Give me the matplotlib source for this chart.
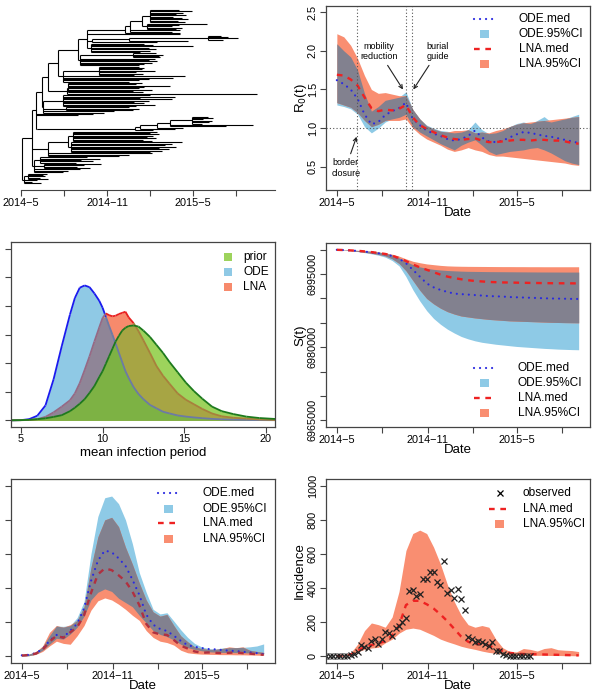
import numpy as np
import pandas as pd
import matplotlib
matplotlib.use("Agg")
import matplotlib.pyplot as plt
from matplotlib.collections import LineCollection
from matplotlib.patches import Rectangle

plt.rcParams['font.family'] = ['Liberation Sans', 'DejaVu Sans']

# ---------------- data ----------------
# model output, every two weeks from 2014-05-01
dates = pd.date_range("2014-05-01", periods=36, freq="14D")
obs_dates = pd.date_range("2014-04-10", periods=60, freq="7D")

# R0(t)
r0_ode_med = [1.62, 1.57, 1.50, 1.38, 1.18, 1.05, 1.08, 1.17, 1.22, 1.26, 1.33, 1.12, 1.04, 0.97, 0.93, 0.90, 0.86, 0.84,
              0.86, 0.90, 0.97, 0.88, 0.83, 0.82, 0.84, 0.88, 0.92, 0.95, 0.94, 0.92, 0.90, 0.89, 0.87, 0.85, 0.83, 0.81]
r0_ode_lo = [1.30, 1.28, 1.25, 1.18, 1.02, 0.94, 1.00, 1.08, 1.12, 1.14, 1.18, 1.02, 0.95, 0.90, 0.85, 0.80, 0.76, 0.72,
             0.78, 0.82, 0.85, 0.78, 0.70, 0.66, 0.68, 0.70, 0.71, 0.72, 0.74, 0.75, 0.72, 0.68, 0.63, 0.58, 0.55, 0.53]
r0_ode_hi = [2.09, 2.00, 1.92, 1.75, 1.45, 1.22, 1.28, 1.36, 1.38, 1.40, 1.47, 1.24, 1.12, 1.04, 1.00, 0.97, 0.96, 0.94,
             0.95, 0.98, 1.08, 0.98, 0.93, 0.94, 0.97, 1.02, 1.06, 1.08, 1.06, 1.10, 1.15, 1.08, 1.10, 1.12, 1.15, 1.18]
r0_lna_med = [1.69, 1.68, 1.63, 1.55, 1.40, 1.26, 1.22, 1.24, 1.23, 1.25, 1.30, 1.14, 1.04, 0.99, 0.95, 0.91, 0.88, 0.86,
              0.85, 0.86, 0.87, 0.84, 0.82, 0.82, 0.83, 0.84, 0.85, 0.85, 0.84, 0.85, 0.85, 0.84, 0.84, 0.83, 0.81, 0.80]
r0_lna_lo = [1.33, 1.30, 1.27, 1.20, 1.10, 1.02, 1.05, 1.10, 1.10, 1.10, 1.12, 1.00, 0.92, 0.86, 0.82, 0.78, 0.73, 0.70,
             0.72, 0.75, 0.72, 0.70, 0.66, 0.64, 0.64, 0.63, 0.62, 0.61, 0.60, 0.59, 0.58, 0.57, 0.56, 0.55, 0.53, 0.52]
r0_lna_hi = [2.22, 2.18, 2.07, 1.90, 1.68, 1.50, 1.45, 1.46, 1.44, 1.42, 1.42, 1.24, 1.12, 1.03, 0.99, 0.96, 0.95, 0.97,
             0.97, 0.98, 0.94, 0.95, 0.94, 0.97, 0.99, 1.02, 1.05, 1.07, 1.08, 1.09, 1.10, 1.11, 1.12, 1.13, 1.14, 1.15]
event_dates = pd.to_datetime(["2014-06-11", "2014-09-19", "2014-10-01"])

# S(t)
s_ode_med = [7000000, 6999950, 6999880, 6999780, 6999640, 6999480, 6999300, 6999080, 6998750, 6998200, 6997250, 6995900,
             6994500, 6993100, 6992300, 6991750, 6991350, 6991000, 6990900, 6990800, 6990700, 6990600, 6990500, 6990450,
             6990400, 6990300, 6990250, 6990200, 6990150, 6990100, 6990050, 6990000, 6989980, 6989950, 6989920, 6989900]
s_ode_lo = [7000000, 6999920, 6999800, 6999640, 6999420, 6999180, 6998900, 6998500, 6997800, 6996700, 6994500, 6991800,
            6989500, 6987500, 6985900, 6984700, 6983700, 6982900, 6982200, 6981700, 6981300, 6981000, 6980800, 6980600,
            6980450, 6980300, 6980150, 6980050, 6979950, 6979850, 6979750, 6979680, 6979600, 6979550, 6979500, 6979470]
s_ode_hi = [7000000, 6999980, 6999940, 6999880, 6999790, 6999680, 6999530, 6999320, 6998950, 6998350, 6997600, 6996950,
            6996500, 6996200, 6995990, 6995850, 6995750, 6995680, 6995620, 6995580, 6995560, 6995540, 6995520, 6995510,
            6995500, 6995490, 6995480, 6995470, 6995460, 6995450, 6995445, 6995440, 6995435, 6995430, 6995430, 6995430]
s_lna_med = [7000000, 6999950, 6999880, 6999800, 6999680, 6999530, 6999360, 6999150, 6998800, 6998300, 6997700, 6997000,
             6996400, 6995900, 6995400, 6994900, 6994500, 6994200, 6993950, 6993750, 6993600, 6993500, 6993400, 6993350,
             6993300, 6993280, 6993250, 6993230, 6993200, 6993180, 6993160, 6993140, 6993130, 6993120, 6993110, 6993100]
s_lna_lo = [7000000, 6999930, 6999830, 6999690, 6999500, 6999300, 6999050, 6998750, 6998150, 6997200, 6995700, 6993700,
            6991700, 6990000, 6988900, 6988000, 6987300, 6986800, 6986400, 6986200, 6986000, 6985850, 6985700, 6985600,
            6985500, 6985400, 6985350, 6985300, 6985250, 6985200, 6985150, 6985100, 6985070, 6985040, 6985020, 6985000]
s_lna_hi = [7000000, 6999980, 6999940, 6999880, 6999800, 6999700, 6999560, 6999380, 6999100, 6998700, 6998150, 6997650,
            6997350, 6997100, 6996950, 6996800, 6996700, 6996650, 6996620, 6996600, 6996590, 6996580, 6996570, 6996560,
            6996550, 6996550, 6996540, 6996540, 6996530, 6996530, 6996520, 6996520, 6996520, 6996520, 6996520, 6996520]

# incidence, ODE vs LNA
inc_ode_med = [5, 8, 18, 42, 90, 125, 110, 150, 190, 280, 440, 560, 620, 610, 575, 530, 450, 360,
               245, 185, 160, 148, 120, 90, 65, 55, 48, 42, 40, 36, 32, 30, 26, 22, 18, 12]
inc_ode_lo = [1, 3, 12, 35, 70, 105, 100, 130, 170, 235, 330, 375, 395, 380, 340, 315, 290, 240,
              195, 150, 128, 115, 95, 70, 50, 40, 32, 26, 24, 22, 22, 21, 20, 19, 17, 15]
inc_ode_hi = [8, 12, 25, 55, 120, 177, 175, 180, 226, 320, 600, 820, 930, 940, 895, 800, 660, 490,
              375, 275, 248, 255, 206, 155, 110, 75, 55, 45, 42, 48, 50, 50, 52, 55, 60, 72]
inc_lna_med = [4, 7, 15, 38, 85, 120, 108, 140, 170, 240, 370, 480, 515, 505, 475, 440, 380, 300,
               190, 140, 128, 125, 95, 62, 45, 28, 20, 22, 20, 18, 20, 22, 18, 15, 12, 8]
inc_lna_lo = [1, 3, 10, 28, 60, 88, 75, 70, 120, 180, 270, 325, 342, 330, 305, 275, 240, 210,
              150, 110, 88, 80, 65, 35, 20, 15, 12, 11, 10, 9, 9, 8, 8, 7, 6, 5]
inc_lna_hi = [8, 12, 25, 60, 140, 180, 170, 185, 210, 290, 520, 700, 800, 815, 760, 640, 540, 430,
              330, 260, 235, 245, 180, 120, 85, 55, 45, 40, 40, 45, 55, 50, 55, 35, 28, 22]

# incidence, LNA fit vs observed
fit_med = [1, 3, 10, 30, 55, 65, 75, 88, 120, 180, 300, 325, 325, 305, 280, 245, 205, 160,
           115, 85, 68, 75, 62, 45, 31, 20, 15, 13, 12, 11, 10, 9, 8, 7, 6, 5]
fit_lo = [0, 1, 8, 25, 40, 48, 52, 78, 100, 135, 158, 165, 158, 140, 122, 100, 85, 72,
          58, 48, 40, 30, 22, 17, 12, 9, 7, 7, 6, 5, 5, 4, 4, 3, 3, 2]
fit_hi = [5, 8, 20, 70, 150, 195, 185, 170, 230, 380, 620, 720, 740, 720, 640, 540, 420, 320,
          240, 185, 170, 180, 170, 100, 50, 28, 25, 45, 40, 30, 45, 50, 38, 35, 33, 27]
observed = [0, 0, 0, 0, 0, 0, 0, 5, 12, 25, 64, 56, 47, 90, 103, 74, 99, 142, 134, 119,
            167, 177, 200, 224, 381, 391, 356, 366, 453, 453, 494, 494, 436, 416, 560, 368, 387, 342, 397, 333,
            272, 113, 99, 84, 89, 86, 74, 60, 84, 31, 31, 12, 6, 3, 2, 2, 1, 0, 0, 0]

# posterior / prior densities of the mean infection period
period = [4.4, 5.0, 5.5, 6.0, 6.5, 7.0, 7.5, 8.0, 8.3, 8.6, 8.9, 9.2, 9.5, 9.8, 10.0, 10.2, 10.4, 10.6, 10.8, 11.0,
          11.2, 11.4, 11.6, 11.9, 12.2, 12.5, 12.9, 13.3, 13.7, 14.1, 14.6, 15.1, 15.6, 16.1, 16.7, 17.3, 18.0, 18.8,
          19.6, 20.6]
dens_ode = [0, 0.0003, 0.002, 0.008, 0.026, 0.072, 0.130, 0.185, 0.214, 0.232, 0.236, 0.233, 0.222, 0.209, 0.197,
            0.181, 0.165, 0.150, 0.134, 0.118, 0.102, 0.086, 0.074, 0.058, 0.046, 0.037, 0.027, 0.021, 0.015, 0.012,
            0.0085, 0.0065, 0.005, 0.0038, 0.0025, 0.0017, 0.001, 0.0007, 0.0004, 0.0002]
dens_lna = [0, 0.0002, 0.0006, 0.002, 0.006, 0.014, 0.024, 0.035, 0.047, 0.065, 0.088, 0.112, 0.138, 0.163, 0.179,
            0.187, 0.184, 0.182, 0.183, 0.186, 0.188, 0.190, 0.180, 0.170, 0.156, 0.140, 0.118, 0.095, 0.078, 0.064,
            0.047, 0.036, 0.028, 0.020, 0.012, 0.007, 0.0045, 0.003, 0.0015, 0.0005]
dens_prior = [0, 0.0003, 0.0008, 0.002, 0.0035, 0.006, 0.009, 0.016, 0.022, 0.029, 0.037, 0.048, 0.060, 0.076, 0.086,
              0.099, 0.112, 0.125, 0.138, 0.148, 0.157, 0.162, 0.165, 0.166, 0.164, 0.157, 0.146, 0.132, 0.118, 0.102,
              0.084, 0.066, 0.051, 0.038, 0.024, 0.016, 0.011, 0.0065, 0.004, 0.0023]

# time-scaled phylogeny, node = [time, children...], leaf = tip time (months since 2014-05)
A1 = [9.0, 11.0, 11.9, 11.3, 10.8, 11.5, 10.6, 11.2, 11.6, 10.9, 11.4]
A2 = [8.8, 12.98, 11.0, 10.5, 11.2, 10.8]
clade_A = [7.26, [7.6, [8.4, A1, A2], 11.1, 10.5], 11.1]
clade_B = [4.95, [7.5, [13.0, 13.9, 14.4, 15.14, 14.1], 11.6], 9.5]
clade_C = [4.9, 8.6, 9.2, 12.0, 8.9, 9.4, 9.0, 8.3]
clade_D = [4.1, [7.8, 9.4, 9.9, 9.6, 9.7], 9.3, 8.9, 9.5, 9.1, 8.6, 8.2]
clade_E = [2.9, [5.4, 8.2, 8.6, 8.4, 9.3, 8.0, 8.5, 7.9], 11.44, 10.6, 8.9, 8.2, 7.5]
clade_F = [3.3, 8.4, 8.0, 10.4, 8.6, 8.2, 9.1, 7.8, 8.5]
clade_G = [1.5, [2.9, 9.0, 10.75, 8.3, 10.5, 8.9, 7.9, 8.6, 9.3, 8.0], [3.1, 7.5, 8.2, 7.8], 6.5, 5.8]
clade_H = [1.1, [7.96, [8.3, [9.5, [10.4, [11.9, 13.0, 13.4, 12.7, 13.3, 13.1, 12.6], 16.19, 14.3], 11.3], 10.7], 9.2]]
clade_I = [1.9, [3.3, [3.6, 9.5, 9.0, 9.6, 9.2, 8.8, 9.4, 8.5, 9.1],
                 [3.5, 11.2, 10.5, 10.0, 10.8, 9.6, 10.3, 9.8, 9.0]], 9.1, 7.5, 6.8]
clade_J = [0.9, [1.3, 4.6, 5.5, 4.2, 5.0, 3.8], [1.6, 5.6, 4.4, 3.9, 4.8], 4.1, 3.3, 2.9]
clade_K = [0.2, [0.5, 1.8, 1.5, 1.7, 1.3, 1.9], 1.1, 0.8, 1.4]
tree = [0.07,
        [0.77,
         [1.05,
          [1.47,
           [1.88,
            [2.58,
             [3.98, [4.6, clade_A, 11.1, clade_B, clade_C], clade_D],
             clade_E],
            [3.2, clade_F, 16.4]],
           clade_G],
          5.0, 4.0, clade_H],
         clade_I, clade_J],
        clade_K]

# ---------------- style ----------------
C_ODE = '#8ecae6'
C_LNA = '#f98e71'
C_BOTH = '#82818f'
C_ODE_LINE = '#2a2ae0'
C_LNA_LINE = '#ee2222'
BOX = '#444444'
DOTTED = dict(lw=1.6, ls=(0, (0.01, 2.7)), dash_capstyle='round')
DASHED = dict(lw=1.7, ls=(0, (2.4, 2.4)))
TICK_LABELS = ["2014\u22125", "", "2014\u221211", "", "2015\u22125", ""]
TICK_DATES = pd.to_datetime(["2014-05-01", "2014-08-01", "2014-11-01", "2015-02-01", "2015-05-01", "2015-08-01"])
T0 = pd.Timestamp("2014-05-01")

W, H = 597, 695
fig = plt.figure(figsize=(W / 100, H / 100), dpi=100)


def panel(x0, y0, x1, y1):
    ax = fig.add_axes([x0 / W, 1 - y1 / H, (x1 - x0) / W, (y1 - y0) / H])
    for s in ax.spines.values():
        s.set_color(BOX)
        s.set_linewidth(0.9)
    ax.tick_params(length=4, width=0.8, color=BOX, labelsize=7.8, pad=2)
    return ax


def rotate_yticks(ax):
    for lab in ax.get_yticklabels():
        lab.set_rotation(90)
        lab.set_va('center')


def date_axis(ax):
    ax.set_xticks(TICK_DATES)
    ax.set_xticklabels(TICK_LABELS)
    ax.set_xlim(T0 - pd.Timedelta(days=22), T0 + pd.Timedelta(days=513))
    ax.set_xlabel("Date", fontsize=9.5, labelpad=0)
    ax.xaxis.set_label_coords(0.5, -0.09)


def bands(ax, x, lo1, hi1, lo2, hi2):
    lo1, hi1, lo2, hi2 = map(np.asarray, (lo1, hi1, lo2, hi2))
    ax.fill_between(x, lo1, hi1, color=C_ODE, lw=0)
    ax.fill_between(x, lo2, hi2, color=C_LNA, lw=0)
    lo = np.maximum(lo1, lo2)
    hi = np.minimum(hi1, hi2)
    ax.fill_between(x, lo, hi, where=hi > lo, interpolate=True, color=C_BOTH, lw=0)


def legend_rows(ax, rows, xs, xt, ys, fs=8.6):
    tr = ax.transAxes
    for (kind, label), y in zip(rows, ys):
        if kind == 'odemed':
            ax.plot([xs - 0.04, xs + 0.04], [y, y], transform=tr, color=C_ODE_LINE, clip_on=False, **DOTTED)
        elif kind == 'lnamed':
            ax.plot([xs - 0.04, xs + 0.04], [y, y], transform=tr, color=C_LNA_LINE, clip_on=False, **DASHED)
        elif kind == 'obs':
            ax.plot([xs], [y], transform=tr, marker='x', color='black', ms=5, mew=0.9, ls='none')
        else:
            ax.add_patch(Rectangle((xs - 0.017, y - 0.022), 0.034, 0.044, transform=tr,
                                   color=kind, lw=0))
        ax.text(xt, y, label, transform=tr, fontsize=fs, va='center', ha='left')


# ---------------- panel 1: tree ----------------
ax1 = fig.add_axes([11 / W, 1 - 190 / H, 264 / W, 185 / H])
segs = []
counter = [0]


def draw_node(node, t_parent):
    if isinstance(node, list):
        t = node[0]
        ys = [draw_node(c, t) for c in node[1:]]
        y = (ys[0] + ys[-1]) / 2
        segs.append([(t, ys[0]), (t, ys[-1])])
    else:
        t = node
        y = counter[0]
        counter[0] += 1
    segs.append([(t_parent, y), (t, y)])
    return y


draw_node(tree, tree[0])
n_leaf = counter[0]
step = (183 - 10) / (n_leaf - 1)
ax1.add_collection(LineCollection(segs, colors='black', linewidths=0.8))
ax1.set_ylim((190 - 10) / step, (5 - 10) / step)
ax1.set_xlim(-10 / 14.36, 254 / 14.36)
for s in ['top', 'right', 'left']:
    ax1.spines[s].set_visible(False)
ax1.spines['bottom'].set_bounds(0, 254 / 14.36)
ax1.spines['bottom'].set_color(BOX)
ax1.set_yticks([])
ax1.set_xticks([0, 3, 6, 9, 12, 15])
ax1.set_xticklabels(TICK_LABELS)
ax1.tick_params(length=4, width=0.8, color=BOX, labelsize=7.8, pad=2)

# ---------------- panel 2: R0 ----------------
ax2 = panel(326, 6, 590, 190)
bands(ax2, dates, r0_ode_lo, r0_ode_hi, r0_lna_lo, r0_lna_hi)
ax2.plot(dates, r0_ode_med, color=C_ODE_LINE, **DOTTED)
ax2.plot(dates, r0_lna_med, color=C_LNA_LINE, **DASHED)
ax2.axhline(1.0, color='#555555', lw=0.8, ls=(0, (1, 2)))
for d in event_dates:
    ax2.axvline(d, color='#555555', lw=0.8, ls=(0, (1, 2)))
arrow = dict(arrowstyle='->', color='#222222', lw=0.8, shrinkA=1, shrinkB=0)
ax2.annotate("mobility\nreduction", xy=(T0 + pd.Timedelta(days=134), 1.50),
             xytext=(T0 + pd.Timedelta(days=85), 1.99), fontsize=6.5, ha='center', va='center',
             arrowprops=arrow, linespacing=1.25)
ax2.annotate("burial\nguide", xy=(T0 + pd.Timedelta(days=155), 1.50),
             xytext=(T0 + pd.Timedelta(days=205), 1.99), fontsize=6.5, ha='center', va='center',
             arrowprops=arrow, linespacing=1.25)
ax2.annotate("border\nclosure", xy=(T0 + pd.Timedelta(days=40), 0.89),
             xytext=(T0 + pd.Timedelta(days=18), 0.49), fontsize=6.5, ha='center', va='center',
             arrowprops=arrow, linespacing=1.25)
date_axis(ax2)
ax2.set_ylim(0.202, 2.578)
ax2.set_yticks([0.5, 1.0, 1.5, 2.0, 2.5])
rotate_yticks(ax2)
ax2.set_ylabel("R$_0$(t)", fontsize=9.5)
ax2.yaxis.set_label_coords(-0.064, 0.5)
legend_rows(ax2, [('odemed', 'ODE.med'), (C_ODE, 'ODE.95%CI'), ('lnamed', 'LNA.med'), (C_LNA, 'LNA.95%CI')],
            0.602, 0.731, [0.929, 0.848, 0.766, 0.685])

# ---------------- panel 3: density ----------------
ax3 = panel(11, 242, 275, 427)
x = np.asarray(period)
po, pl, pp = map(np.asarray, (dens_ode, dens_lna, dens_prior))
ax3.fill_between(x, 0, po, color='#8fc9e5', lw=0)
ax3.fill_between(x, 0, pl, color='#f78a6c', lw=0)
ax3.fill_between(x, 0, np.minimum(po, pl), color='#8f8597', lw=0)
ax3.fill_between(x, 0, pp, color='#9dd35c', lw=0)
ax3.fill_between(x, 0, np.minimum(pp, pl), color='#a7a544', lw=0)
ax3.fill_between(x, 0, np.minimum(pp, po), color='#7db244', lw=0)


def seg_lines(ax, y, colors_fn):
    pts = np.column_stack([x, y])
    sg = np.stack([pts[:-1], pts[1:]], axis=1)
    cols = [colors_fn(i) for i in range(len(x) - 1)]
    ax.add_collection(LineCollection(sg, colors=cols, linewidths=1.3))


def ode_col(i):
    m = (po[i] + po[i + 1]) / 2
    return '#1a1aee' if m >= max((pl[i] + pl[i + 1]) / 2, (pp[i] + pp[i + 1]) / 2) else '#6c7aa6'


def lna_col(i):
    m = (pl[i] + pl[i + 1]) / 2
    if m >= max((po[i] + po[i + 1]) / 2, (pp[i] + pp[i + 1]) / 2):
        return '#e82020'
    if m < (pp[i] + pp[i + 1]) / 2:
        return '#a8803c'
    return '#946a86'


seg_lines(ax3, po, ode_col)
seg_lines(ax3, pl, lna_col)
seg_lines(ax3, pp, lambda i: '#1d7a1d')
ax3.set_xlim(4.39, 20.56)
ax3.set_ylim(-0.0117, 0.312)
ax3.set_xticks([5, 10, 15, 20])
ax3.set_yticks([0, 0.05, 0.10, 0.15, 0.20, 0.25, 0.30])
ax3.set_yticklabels([])
ax3.tick_params(axis='x', pad=1)
ax3.set_xlabel("mean infection period", fontsize=9.5)
ax3.xaxis.set_label_coords(0.5, -0.108)
legend_rows(ax3, [('#9dd35c', 'prior'), ('#8fc9e5', 'ODE'), ('#f78a6c', 'LNA')],
            0.822, 0.879, [0.919, 0.838, 0.757])

# ---------------- panel 4: S(t) ----------------
ax4 = panel(326, 243, 590, 427)
bands(ax4, dates, s_ode_lo, s_ode_hi, s_lna_lo, s_lna_hi)
ax4.plot(dates, s_ode_med, color=C_ODE_LINE, **DOTTED)
ax4.plot(dates, s_lna_med, color=C_LNA_LINE, **DASHED)
date_axis(ax4)
ax4.set_ylim(6963600, 7001400)
yt = np.arange(6965000, 7000001, 5000)
ax4.set_yticks(yt)
ax4.set_yticklabels([str(v) if v in (6965000, 6980000, 6995000) else "" for v in yt])
rotate_yticks(ax4)
ax4.set_ylabel("S(t)", fontsize=9.5)
ax4.yaxis.set_label_coords(-0.075, 0.5)
legend_rows(ax4, [('odemed', 'ODE.med'), (C_ODE, 'ODE.95%CI'), ('lnamed', 'LNA.med'), (C_LNA, 'LNA.95%CI')],
            0.602, 0.727, [0.321, 0.239, 0.158, 0.076])

# ---------------- panel 5: incidence ODE vs LNA ----------------
ax5 = panel(11, 479, 275, 663)
bands(ax5, dates, inc_ode_lo, inc_ode_hi, inc_lna_lo, inc_lna_hi)
ax5.plot(dates, inc_ode_med, color=C_ODE_LINE, **DOTTED)
ax5.plot(dates, inc_lna_med, color='#b03040', **DASHED)
date_axis(ax5)
ax5.set_ylim(-40, 1040)
ax5.set_yticks([0, 200, 400, 600, 800, 1000])
ax5.set_yticklabels([])
legend_rows(ax5, [('odemed', 'ODE.med'), (C_ODE, 'ODE.95%CI'), ('lnamed', 'LNA.med'), (C_LNA, 'LNA.95%CI')],
            0.595, 0.727, [0.924, 0.837, 0.761, 0.674])

# ---------------- panel 6: fit to observed incidence ----------------
ax6 = panel(326, 479, 590, 663)
ax6.fill_between(dates, fit_lo, fit_hi, color=C_LNA, lw=0)
ax6.plot(dates, fit_med, color=C_LNA_LINE, **DASHED)
ax6.plot(obs_dates, observed, ls='none', marker='x', color='#222222', ms=5, mew=0.9)
date_axis(ax6)
ax6.set_ylim(-40, 1040)
ax6.set_yticks([0, 200, 400, 600, 800, 1000])
rotate_yticks(ax6)
ax6.set_ylabel("Incidence", fontsize=9.5)
ax6.yaxis.set_label_coords(-0.075, 0.5)
legend_rows(ax6, [('obs', 'observed'), ('lnamed', 'LNA.med'), (C_LNA, 'LNA.95%CI')],
            0.659, 0.746, [0.924, 0.837, 0.755])

fig.savefig("out.png", dpi=100)
